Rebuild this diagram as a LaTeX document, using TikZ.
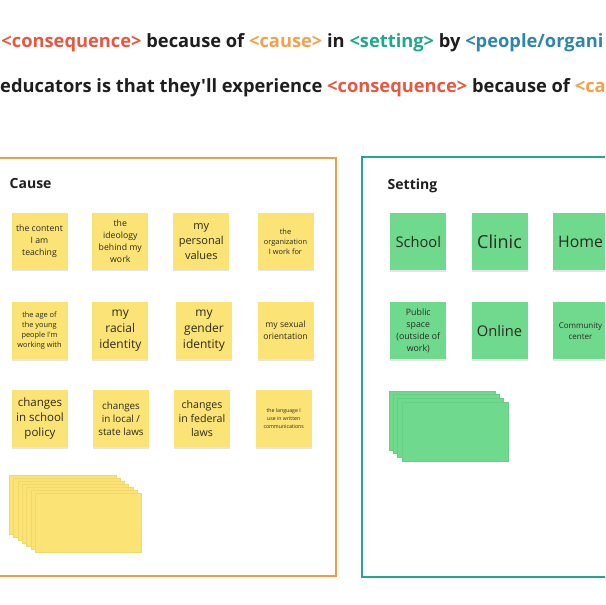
\documentclass[tikz,border=0pt]{standalone}
\usepackage{fontspec}
\setmainfont{Open Sans}[Ligatures=TeXOff]
\usetikzlibrary{shadows}
\definecolor{conscol}{HTML}{E9573F}
\definecolor{causecol}{HTML}{F5A04C}
\definecolor{settcol}{HTML}{1FA98C}
\definecolor{peopcol}{HTML}{2E86AB}
\definecolor{inkcol}{HTML}{1E1E1E}
\definecolor{notetext}{HTML}{2A2A22}
\definecolor{frameO}{HTML}{F2994A}
\definecolor{frameG}{HTML}{22A78D}
\definecolor{noteY}{HTML}{FCE375}
\definecolor{noteYedge}{HTML}{F1D868}
\definecolor{noteG}{HTML}{6FDA8D}
\definecolor{noteGedge}{HTML}{66D085}
\newcommand{\nfs}[2]{\fontsize{#1}{#2}\selectfont}
\begin{document}
\begin{tikzpicture}[x=1pt,y=-1pt,
  note/.style={rectangle, minimum width=56pt, minimum height=57pt, inner sep=0pt,
    align=center, text=notetext,
    drop shadow={shadow xshift=0pt, shadow yshift=-1.5pt, opacity=0.10, fill=black}},
  ynote/.style={note, fill=noteY},
  gnote/.style={note, fill=noteG},
  head/.style={anchor=base west, inner sep=0pt, text=inkcol, font=\bfseries\nfs{18.3}{22}},
  title/.style={anchor=base west, inner sep=0pt, text=inkcol, font=\bfseries\nfs{14}{17}},
  frame/.style={line width=2pt},
  ycard/.style={fill=noteY, draw=noteYedge, line width=0.25pt},
  gcard/.style={fill=noteG, draw=noteGedge, line width=0.25pt}]
\useasboundingbox (0,0) rectangle (605,605);
\clip (0,0) rectangle (605,605);
\fill[white] (0,0) rectangle (605,605);

% header lines
\node[head] (line1) at (1.2,47.7) {\textcolor{conscol}{<consequence>} because of \textcolor{causecol}{<cause>} in \textcolor{settcol}{<setting>} by \textcolor{peopcol}{<people/organi}};
\node[head] (line2) at (0,92.7) {educators is that they'll experience \textcolor{conscol}{<consequence>} because of \textcolor{causecol}{<ca}};

% frames
\draw[frame, frameO] (-5,158) rectangle (336,576);
\draw[frame, frameG] (362.3,157.3) rectangle (620,577);

\node[title] (causetitle) at (9.5,188.5) {Cause};
\node[title] (settingtitle) at (387.5,189) {Setting};

% cause notes, row 1
\node[ynote, font=\nfs{8.7}{11.7}] (c11) at (39.5,241.3) {the content\\I am\\teaching};
\node[ynote, font=\nfs{8.7}{12.2}] (c12) at (120.3,241.3) {the\\ideology\\behind my\\work};
\node[ynote, font=\nfs{11}{15}] (c13) at (201.3,241.3) {my\\personal\\values};
\node[ynote, font=\nfs{7.4}{10}] (c14) at (285.5,241.3) {the\\organization\\I work for};
% row 2
\node[ynote, font=\nfs{7.4}{10}] (c21) at (39.5,330.5) {the age of\\the young\\people I'm\\working with};
\node[ynote, font=\nfs{12}{15.7}] (c22) at (120.3,330.5) {my\\racial\\identity};
\node[ynote, font=\nfs{12}{15.7}] (c23) at (204,330.5) {my\\gender\\identity};
\node[ynote, font=\nfs{8.6}{11.7}] (c24) at (285.5,330.5) {my sexual\\orientation};
% row 3
\node[ynote, font=\nfs{11.5}{15}] (c31) at (40,418.7) {changes\\in school\\policy};
\node[ynote, font=\nfs{9.8}{13.3}] (c32) at (121,418.7) {changes\\in local /\\state laws};
\node[ynote, font=\nfs{10.6}{14.2}] (c33) at (202,418.7) {changes\\in federal\\laws};
\node[ynote, font=\nfs{5.2}{7.7}] (c34) at (283.7,418.7) {the language I\\use in written\\communications};

% yellow stack
\foreach \i in {0,...,6} {
  \draw[ycard] (9.3+4.28*\i,475+3*\i) rectangle ++(106.4,58.7);
}

% setting notes
\node[gnote, font=\nfs{14.7}{18}] (s11) at (418.3,241.7) {School};
\node[gnote, font=\nfs{18}{22}] (s12) at (499.5,241.7) {Clinic};
\node[gnote, font=\nfs{15.8}{19}] (s13) at (580.5,241.7) {Home};
\node[gnote, font=\nfs{8.8}{12}] (s21) at (418.3,330.8) {Public\\space\\(outside of\\work)};
\node[gnote, font=\nfs{14.7}{18}] (s22) at (499.5,330.8) {Online};
\node[gnote, font=\nfs{8}{10.7}] (s23) at (580.5,330.8) {Community\\center};

% green stack
\foreach \i in {0,...,3} {
  \draw[gcard] (389+4.23*\i,390.7+3.67*\i) rectangle ++(106,59);
}
\end{tikzpicture}
\end{document}
